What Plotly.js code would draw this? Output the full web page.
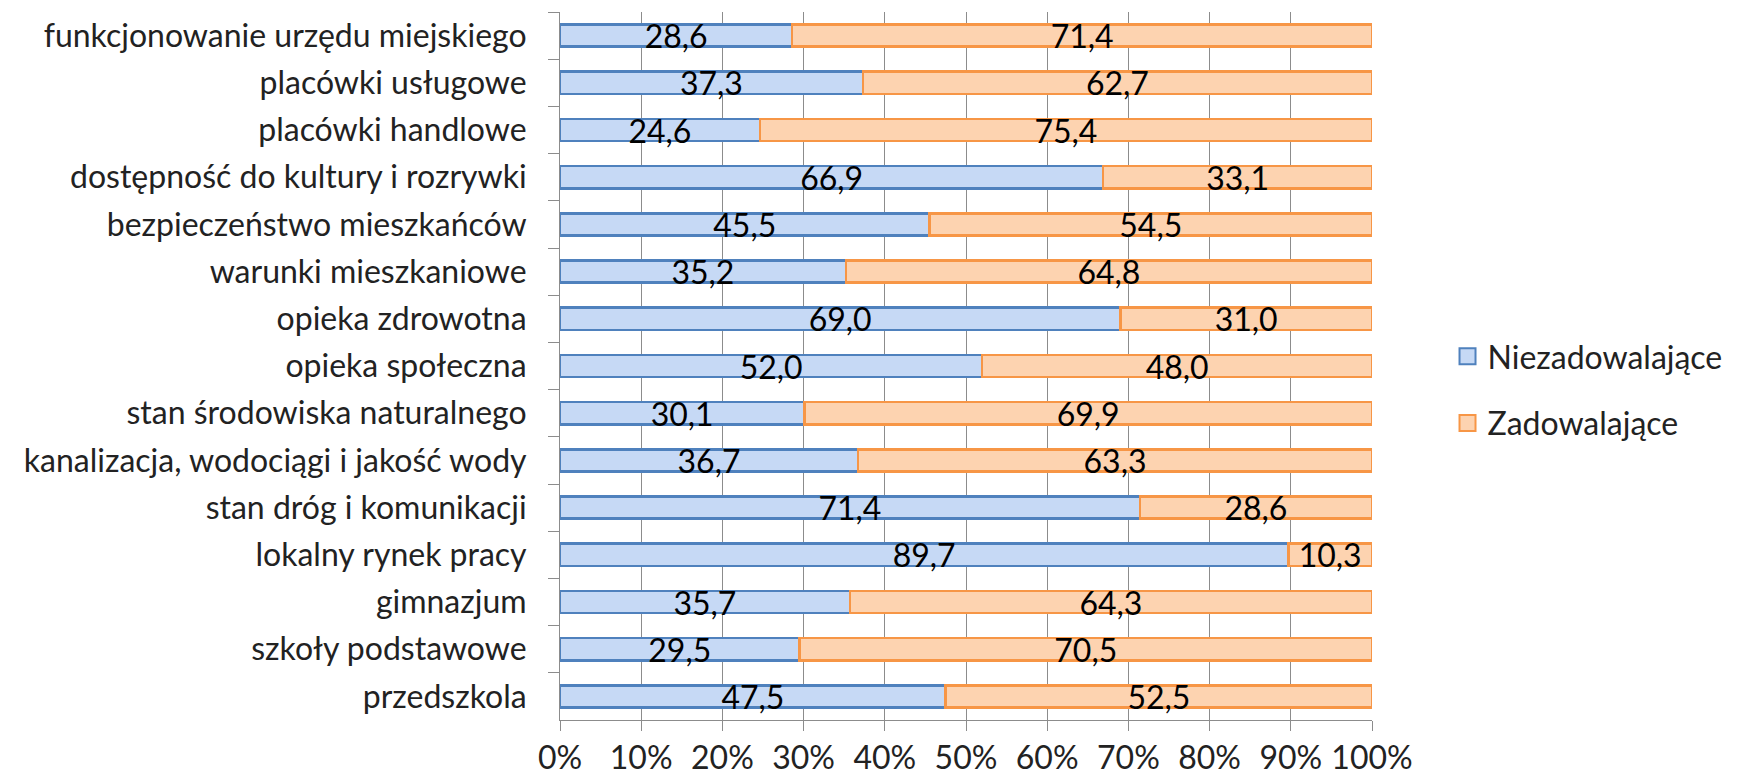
<!DOCTYPE html>
<html>
<head>
<meta charset="utf-8">
<script src="https://cdn.plot.ly/plotly-3.0.1.min.js"></script>
<style>html,body{margin:0;padding:0;background:#fff;}#chart{width:1740px;height:779px;}</style>
</head>
<body>
<div id="chart"></div>
<script>
const categories = [
  "funkcjonowanie urzędu miejskiego",
  "placówki usługowe",
  "placówki handlowe",
  "dostępność do kultury i rozrywki",
  "bezpieczeństwo mieszkańców",
  "warunki mieszkaniowe",
  "opieka zdrowotna",
  "opieka społeczna",
  "stan środowiska naturalnego",
  "kanalizacja, wodociągi i jakość wody",
  "stan dróg i komunikacji",
  "lokalny rynek pracy",
  "gimnazjum",
  "szkoły podstawowe",
  "przedszkola"
];
const niezadowalajace = [28.6, 37.3, 24.6, 66.9, 45.5, 35.2, 69.0, 52.0, 30.1, 36.7, 71.4, 89.7, 35.7, 29.5, 47.5];
const zadowalajace = [71.4, 62.7, 75.4, 33.1, 54.5, 64.8, 31.0, 48.0, 69.9, 63.3, 28.6, 10.3, 64.3, 70.5, 52.5];
const seriesNames = ['Niezadowalające', 'Zadowalające'];
const xTicks = [0, 10, 20, 30, 40, 50, 60, 70, 80, 90, 100];
const xTickLabels = ["0%", "10%", "20%", "30%", "40%", "50%", "60%", "70%", "80%", "90%", "100%"];

const FONT = "Lato, 'Open Sans', sans-serif";
const FS = 32;
const fills = ['#c6d9f5', '#fdd3b0'];
const edges = ['#4f81bd', '#f79646'];
const common = {
  type: 'bar', orientation: 'h', y: categories, showlegend: false,
  texttemplate: '%{x:.1f}', textposition: 'inside', insidetextanchor: 'middle',
  constraintext: 'none', cliponaxis: false,
  textfont: {family: FONT, size: FS, color: '#000'}
};
const traces = [
  Object.assign({}, common, {
    name: seriesNames[0], x: niezadowalajace,
    marker: {color: fills[0], line: {color: edges[0], width: 2.5}}
  }),
  Object.assign({}, common, {
    name: seriesNames[1], x: zadowalajace,
    marker: {color: fills[1], line: {color: edges[1], width: 2.5}}
  })
];
// legend-only entries with larger square swatches
seriesNames.forEach((n, i) => {
  traces.push({
    type: 'scatter', mode: 'markers', name: n, x: [null], y: [null],
    legendgroup: 'g' + i, showlegend: true, hoverinfo: 'skip',
    marker: {symbol: 'square', size: 16, color: fills[i], line: {color: edges[i], width: 2}}
  });
});
const layout = {
  width: 1740, height: 779,
  margin: {l: 560, r: 365, t: 12, b: 59},
  barmode: 'stack', bargap: 0.53,
  separators: ', ',
  paper_bgcolor: '#fff', plot_bgcolor: '#fff',
  font: {family: FONT, size: FS, color: '#222'},
  xaxis: {
    range: [0, 100], tickvals: xTicks, ticktext: xTickLabels,
    showgrid: true, gridcolor: '#8c8c8c', gridwidth: 1,
    ticks: 'outside', ticklen: 10, tickcolor: '#8c8c8c',
    showline: true, linecolor: '#8c8c8c', linewidth: 1,
    zeroline: false, fixedrange: true,
    tickfont: {family: FONT, size: FS, color: '#222'}
  },
  yaxis: {
    autorange: 'reversed', ticks: 'outside', tickson: 'boundaries', ticklen: 11,
    tickcolor: '#8c8c8c', showline: true, linecolor: '#8c8c8c', linewidth: 1,
    showgrid: false, ticklabelstandoff: 26,
    tickfont: {family: FONT, size: FS, color: '#222'}
  },
  legend: {
    x: 1.093, y: 0.466, xanchor: 'left', yanchor: 'middle',
    font: {family: FONT, size: FS, color: '#222'},
    tracegroupgap: 22, itemwidth: 30, traceorder: 'grouped'
  },
  showlegend: true
};
Plotly.newPlot('chart', traces, layout, {displayModeBar: false, staticPlot: true});
</script>
</body>
</html>
